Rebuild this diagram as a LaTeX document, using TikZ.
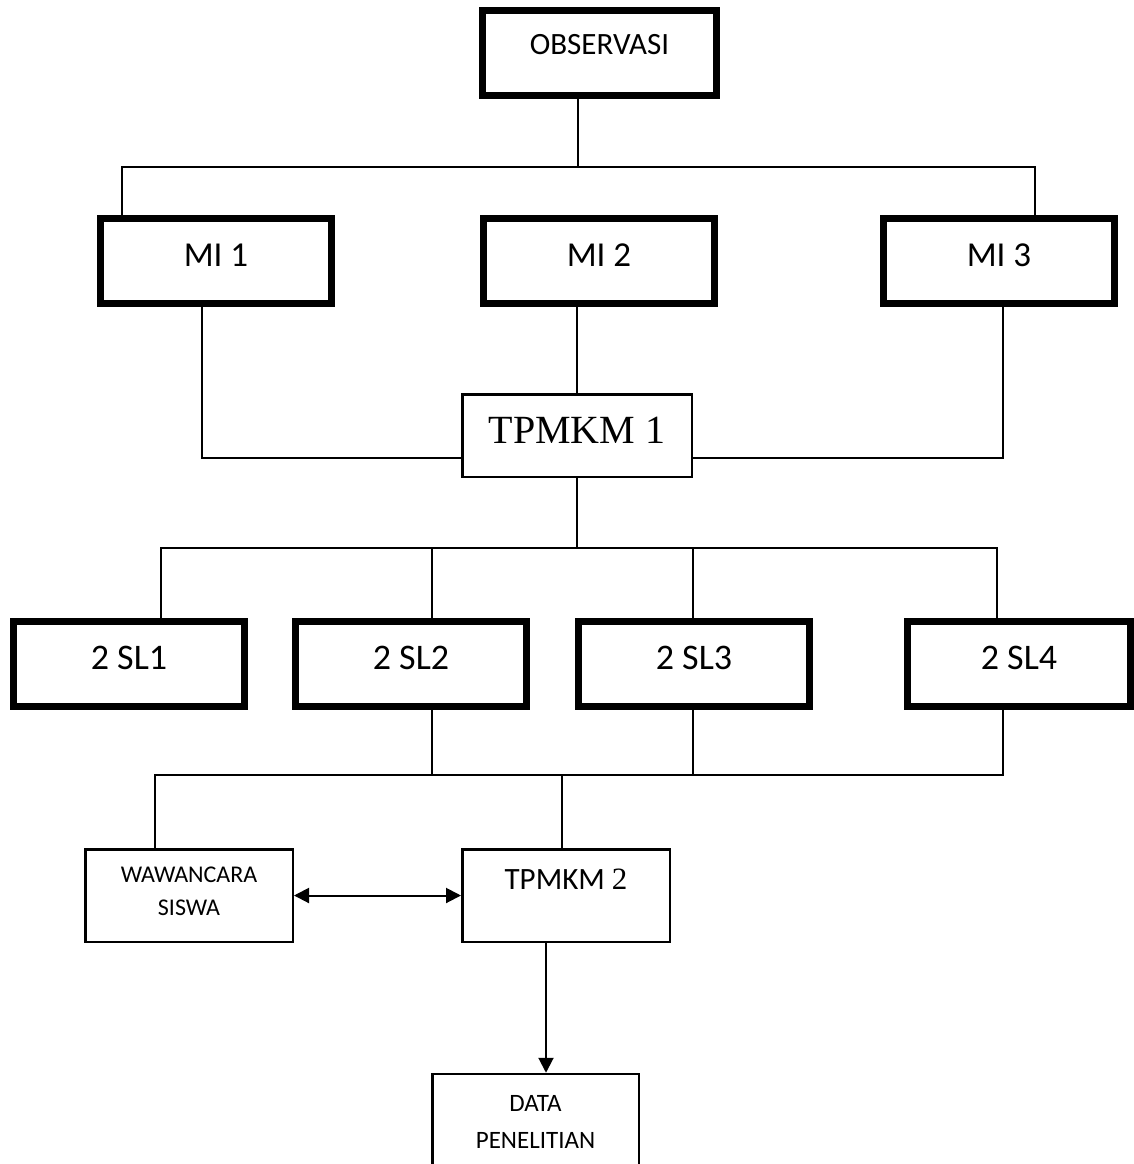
\documentclass[tikz,border=0pt]{standalone}
\usepackage{fontspec}
\setmainfont{Carlito}
\newfontfamily\timesface{Liberation Serif}
\usetikzlibrary{arrows.meta}
\begin{document}
\begin{tikzpicture}[x=1pt,y=-1pt,
  heavybox/.style={draw, line width=7pt, inner sep=0pt,
    minimum width=231pt, minimum height=85pt},
  lightbox/.style={draw, line width=2.5pt, inner sep=0pt},
  link/.style={line width=2pt},
  tip/.style={-{Triangle[length=15pt,width=15pt]}},
  twotips/.style={{Triangle[length=15pt,width=15pt]}-{Triangle[length=15pt,width=15pt]}}]

\fill[white] (0,0) rectangle (1134,1164);
\clip (0,0) rectangle (1134,1164);

% top level
\node[heavybox, minimum width=234pt] (obs) at (599.5,53) {};
\path (obs.center) ++(0,-8) node[font=\fontsize{31}{37}\selectfont] (obslabel) {OBSERVASI};

% MI row
\node[heavybox] (mi1) at (216,261) {};
\node[heavybox] (mi2) at (599,261) {};
\node[heavybox] (mi3) at (999,261) {};
\path (mi1.center) ++(0,-6) node[font=\fontsize{35}{42}\selectfont] (mi1t) {MI 1};
\path (mi2.center) ++(0,-6) node[font=\fontsize{35}{42}\selectfont] (mi2t) {MI 2};
\path (mi3.center) ++(0,-6) node[font=\fontsize{35}{42}\selectfont] (mi3t) {MI 3};

% first processing step
\node[lightbox, minimum width=229.5pt, minimum height=82.5pt] (tp1) at (577,435.5) {};
\path (tp1.center) ++(0,-5) node[font=\timesface\fontsize{40}{48}\selectfont] (tp1t) {TPMKM 1};

% SL row
\node[heavybox] (sl1) at (129,664) {};
\node[heavybox] (sl2) at (411,664) {};
\node[heavybox] (sl3) at (694,664) {};
\node[heavybox, minimum width=223pt] (sl4) at (1019,664) {};
\path (sl1.center) ++(0,-6) node[font=\fontsize{36}{43}\selectfont] (sl1t) {2 SL1};
\path (sl2.center) ++(0,-6) node[font=\fontsize{36}{43}\selectfont] (sl2t) {2 SL2};
\path (sl3.center) ++(0,-6) node[font=\fontsize{36}{43}\selectfont] (sl3t) {2 SL3};
\path (sl4.center) ++(0,-6) node[font=\fontsize{36}{43}\selectfont] (sl4t) {2 SL4};

% interview, second step, results
\node[lightbox, minimum width=207.5pt, minimum height=92.5pt] (ww) at (189,895.5) {};
\node[lightbox, minimum width=207.5pt, minimum height=92.5pt] (tp2) at (566,895.5) {};
\node[lightbox, minimum width=206.5pt, minimum height=126pt] (data) at (535.5,1137) {};
\path (ww.center) ++(0,-4.5) node[align=center, font=\fontsize{24}{33}\selectfont] (wwt) {WAWANCARA\\SISWA};
\path (tp2.center) ++(0,-16) node[font=\fontsize{31}{37}\selectfont] (tp2t) {TPMKM {\timesface 2}};
\path (data.center) ++(0,-15.5) node[align=center, font=\fontsize{25}{37}\selectfont] (datat) {DATA\\PENELITIAN};

% junction points of the connectors
\coordinate (j1) at (578,167);
\coordinate (m1x) at (122,167);
\coordinate (m3x) at (1035,167);
\coordinate (t1l) at (202,458);
\coordinate (t1r) at (1003,458);
\coordinate (s1x) at (161,548);
\coordinate (s2x) at (432,548);
\coordinate (s3x) at (693,548);
\coordinate (s4x) at (997,548);
\coordinate (rw) at (155,775);
\coordinate (r2) at (432,775);
\coordinate (r3) at (693,775);
\coordinate (r4) at (1003,775);
\coordinate (rt) at (562,775);
\coordinate (dx) at (546,1000);

% connectors
\draw[link] (j1 |- obs.south) -- (j1);
\draw[link] (m1x |- mi1.north) -- (m1x) -- (m3x) -- (m3x |- mi3.north);
\draw[link] (t1l |- mi1.south) -- (t1l) -- (t1l -| tp1.west);
\draw[link] (tp1.north |- mi2.south) -- (tp1.north);
\draw[link] (t1r |- mi3.south) -- (t1r) -- (t1r -| tp1.east);
\draw[link] (tp1.south) -- (tp1.south |- s1x);
\draw[link] (s1x |- sl1.north) -- (s1x) -- (s4x) -- (s4x |- sl4.north);
\draw[link] (s2x) -- (s2x |- sl2.north);
\draw[link] (s3x) -- (s3x |- sl3.north);
\draw[link] (rw |- ww.north) -- (rw) -- (r4) -- (r4 |- sl4.south);
\draw[link] (r2 |- sl2.south) -- (r2);
\draw[link] (r3 |- sl3.south) -- (r3);
\draw[link] (rt) -- (rt |- tp2.north);
\draw[link, twotips] (ww.east) -- (tp2.west);
\draw[link, tip] (dx |- tp2.south) -- (dx |- data.north);
\end{tikzpicture}
\end{document}
